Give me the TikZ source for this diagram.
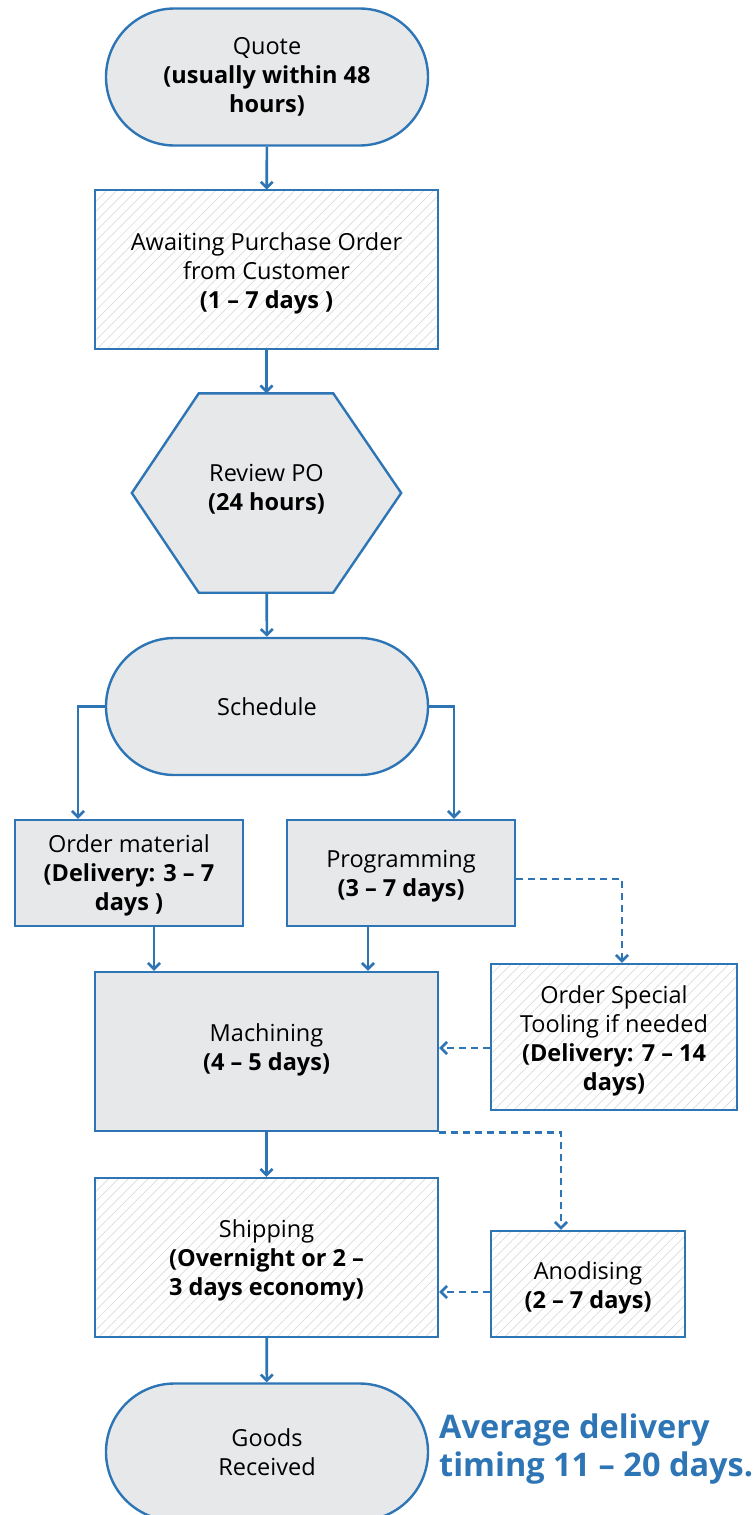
\documentclass[tikz,border=0pt]{standalone}
\usepackage{fontspec}
\setmainfont{Open Sans}
\usetikzlibrary{arrows.meta,calc,positioning,shapes.misc,patterns.meta}
\definecolor{flowblue}{HTML}{2E75B6}
\definecolor{boxgrey}{HTML}{E7E8EA}

\begin{document}
\begin{tikzpicture}[
    x=1pt,y=-1pt,
    font=\fontsize{23.5}{29}\selectfont,
    base/.style={draw=flowblue,line width=2.4pt,align=center,inner sep=0pt},
    term/.style={base,rounded rectangle,fill=boxgrey,minimum width=322pt,minimum height=137pt},
    greybox/.style={base,rectangle,fill=boxgrey},
    hatchbox/.style={base,rectangle,pattern={Lines[angle=45,distance=7pt,line width=.7pt]},pattern color=black!14},
    e/.style={-{Straight Barb[length=6pt,width=12pt]},line width=2.6pt,flowblue},
    ed/.style={e,dash pattern=on 7pt off 5pt}
  ]
    \useasboundingbox (0,0) rectangle (753,1515);
    \node[term] (quote) at (267,77) {Quote\\\textbf{(usually within 48}\\\textbf{hours)}};
    \node[hatchbox,minimum width=343pt,minimum height=159pt] (await) at (266.5,269.5) {};
    \node[align=center,inner sep=0pt] (awaittxt) at (266.5,273) {Awaiting Purchase Order\\from Customer\\\textbf{(1 – 7 days )}};
    \node[inner sep=0pt,minimum width=269pt,minimum height=199pt] (review) at (266.5,493) {};
    \draw[base,fill=boxgrey] (review.west) -- ($(review.north west)+(67,0)$) -- ($(review.north east)+(-68,0)$) -- (review.east)
      -- ($(review.south east)+(-68,0)$) -- ($(review.south west)+(67,0)$) -- cycle;
    \node[align=center,inner sep=0pt] (reviewtxt) at (266.5,489) {Review PO\\\textbf{(24 hours)}};
    \node[term] (sched) at (267,706.5) {Schedule};
    \node[greybox,minimum width=228pt,minimum height=106pt] (material) at (129,873) {};
    \node[align=center,inner sep=0pt] (materialtxt) at (129,875) {Order material\\\textbf{(Delivery: 3 – 7}\\\textbf{days )}};
    \node[greybox,minimum width=228pt,minimum height=106pt] (prog) at (401,873) {};
    \node[align=center,inner sep=0pt] (progtxt) at (401,876) {Programming\\\textbf{(3 – 7 days)}};
    \node[greybox,minimum width=343pt,minimum height=159pt] (mach) at (266.5,1051.5) {};
    \node[align=center,inner sep=0pt] (machtxt) at (266.5,1050) {Machining\\\textbf{(4 – 5 days)}};
    \node[hatchbox,minimum width=246pt,minimum height=146pt] (tool) at (614,1037) {};
    \node[align=center,inner sep=0pt] (tooltxt) at (614,1040.5) {Order Special\\Tooling if needed\\\textbf{(Delivery: 7 – 14}\\\textbf{days)}};
    \node[hatchbox,minimum width=343pt,minimum height=159pt] (ship) at (266.5,1257.5) {};
    \node[align=center,inner sep=0pt] (shiptxt) at (266.5,1260.5) {Shipping\\\textbf{(Overnight or 2 –}\\\textbf{3 days economy)}};
    \node[hatchbox,minimum width=194pt,minimum height=106pt] (anod) at (588,1284) {};
    \node[align=center,inner sep=0pt] (anodtxt) at (588,1288) {Anodising\\\textbf{(2 – 7 days)}};
    \node[term] (goods) at (267,1452) {Goods\\Received};
    \node[anchor=west,align=left,inner sep=0pt,text=flowblue,font=\fontsize{32.5}{38}\selectfont\bfseries] (avg) at (439,1449) {Average delivery\\timing 11 – 20 days.};
    % connector end points
    \coordinate (ml) at ($(material.north)+(-51,0)$);
    \coordinate (pr) at ($(prog.north)+(53,0)$);
    \coordinate (mo) at ($(material.south)+(25,0)$);
    \coordinate (po) at ($(prog.south)+(-33,0)$);
    \coordinate (pt) at ($(prog.east)+(0,6)$);
    \coordinate (tt) at ($(tool.north)+(8,0)$);
    \coordinate (tw) at ($(tool.west)+(0,11)$);
    \coordinate (at) at ($(anod.north)+(-27,0)$);
    \coordinate (aw) at ($(anod.west)+(0,8)$);
    % main flow
    \draw[e] (quote) -- (await);
    \draw[e] (await) -- (review);
    \draw[e] (review) -- (sched);
    \draw[e] (sched.west) -| (ml);
    \draw[e] (sched.east) -| (pr);
    \draw[e] (mo) -- (mo |- mach.north);
    \draw[e] (po) -- (po |- mach.north);
    \draw[e] (mach) -- (ship);
    \draw[e] (ship) -- (goods);
    % optional steps
    \draw[ed] (pt) -| (tt);
    \draw[ed] (tw) -- (tw -| mach.east);
    \draw[ed] (mach.south east) -| (at);
    \draw[ed] (aw) -- (aw -| ship.east);
\end{tikzpicture}
\end{document}
